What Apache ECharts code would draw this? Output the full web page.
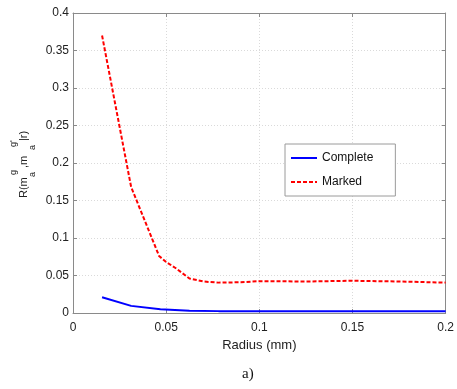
<!DOCTYPE html>
<html>
<head>
<meta charset="utf-8">
<script src="https://cdn.jsdelivr.net/npm/echarts@6/dist/echarts.min.js"></script>
<style>
  html, body { margin: 0; padding: 0; background: #fff; }
  #chart { width: 457px; height: 389px; }
</style>
</head>
<body>
<div id="chart"></div>
<script>
// Radius (mm) sample positions and R values for each curve
const completeRadius = [0.0156, 0.0312, 0.0469, 0.0625, 0.0781, 0.1, 0.15, 0.2];
const completeValues = [0.021, 0.0095, 0.005, 0.003, 0.0025, 0.0023, 0.0023, 0.0022];

const markedRadius = [0.0156, 0.0312, 0.0462, 0.05, 0.055, 0.0625, 0.07, 0.078, 0.09, 0.1, 0.125, 0.15, 0.175, 0.2];
const markedValues = [0.37, 0.168, 0.076, 0.068, 0.060, 0.046, 0.042, 0.0405, 0.041, 0.0425, 0.042, 0.043, 0.042, 0.0405];

const seriesNames = ['Complete', 'Marked'];
const xTicks = { min: 0, max: 0.2, step: 0.05 };
const yTicks = { min: 0, max: 0.4, step: 0.05 };

const pair = (xs, ys) => xs.map((x, i) => [x, ys[i]]);

const chart = echarts.init(document.getElementById('chart'), null, { renderer: 'canvas' });

const gridLine = { show: true, lineStyle: { color: '#dadada', type: [1, 2], width: 1 } };
const labelFont = { fontFamily: 'Liberation Sans', fontSize: 12, color: '#222' };
const boxLine = { show: true, onZero: false, lineStyle: { color: '#8a8a8a', width: 1 } };
const innerTick = { show: true, inside: true, length: 4, lineStyle: { color: '#8a8a8a' } };

// Stacked sub/superscript pieces of the y-axis title, laid out along the reading direction
const sup = 9, sub = 9;
const yTitleParts = [
  { text: 'R(m', x: 0, y: 0, size: 11 },
  { text: 'g', x: 23, y: -10, size: sup },
  { text: 'a', x: 21, y: 9, size: sub },
  { text: ',m', x: 30, y: 0, size: 11 },
  { text: "g'", x: 51, y: -10, size: sup },
  { text: 'a', x: 48, y: 9, size: sub },
  { text: '|r)', x: 57, y: 0, size: 11 }
];

chart.setOption({
  animation: false,
  backgroundColor: '#fff',
  grid: { left: 73, right: 10, top: 13, bottom: 76, show: false },
  legend: {
    data: seriesNames,
    orient: 'vertical',
    left: 285,
    top: 144,
    itemWidth: 26,
    itemHeight: 12,
    itemGap: 12,
    padding: [8, 22, 8, 5],
    borderColor: '#9a9a9a',
    borderWidth: 1,
    backgroundColor: '#fff',
    itemStyle: { opacity: 0 },
    textStyle: { fontFamily: 'Liberation Sans', fontSize: 12, color: '#111' }
  },
  xAxis: [
    {
      type: 'value', min: xTicks.min, max: xTicks.max, interval: xTicks.step,
      name: 'Radius (mm)', nameLocation: 'middle', nameGap: 21,
      nameTextStyle: { fontFamily: 'Liberation Sans', fontSize: 13, color: '#222' },
      axisLine: boxLine, axisTick: innerTick, splitLine: gridLine,
      axisLabel: Object.assign({ margin: 9 }, labelFont)
    },
    {
      type: 'value', position: 'top', min: xTicks.min, max: xTicks.max, interval: xTicks.step,
      axisLine: boxLine, axisTick: innerTick, splitLine: { show: false }, axisLabel: { show: false }
    }
  ],
  yAxis: [
    {
      type: 'value', min: yTicks.min, max: yTicks.max, interval: yTicks.step,
      axisLine: boxLine, axisTick: innerTick, splitLine: gridLine,
      axisLabel: Object.assign({ margin: 4 }, labelFont)
    },
    {
      type: 'value', position: 'right', min: yTicks.min, max: yTicks.max, interval: yTicks.step,
      axisLine: boxLine, axisTick: innerTick, splitLine: { show: false }, axisLabel: { show: false }
    }
  ],
  series: [
    {
      name: seriesNames[0], type: 'line', data: pair(completeRadius, completeValues),
      symbol: 'none', smooth: false, color: '#0000ff',
      lineStyle: { color: '#0000ff', width: 2 }
    },
    {
      name: seriesNames[1], type: 'line', data: pair(markedRadius, markedValues),
      symbol: 'none', smooth: false, color: '#ff0000',
      lineStyle: { color: '#ff0000', width: 2, type: [4, 2] }
    }
  ],
  graphic: [
    {
      type: 'group', x: 24, y: 198, rotation: Math.PI / 2,
      children: yTitleParts.map(p => ({
        type: 'text', x: p.x, y: p.y,
        style: {
          text: p.text, fontFamily: 'Liberation Sans', fontSize: p.size, fill: '#222',
          align: 'left', verticalAlign: 'middle'
        }
      }))
    },
    {
      type: 'text', left: 242, top: 367,
      style: { text: 'a)', fontFamily: 'Liberation Serif', fontSize: 15, fill: '#111' }
    }
  ]
});
</script>
</body>
</html>
